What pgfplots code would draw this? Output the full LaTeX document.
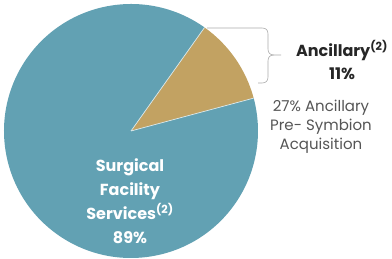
\documentclass[border=0pt]{standalone}
\usepackage{pgfplots}
\pgfplotsset{compat=1.18}
\usepackage{pgfplotstable}
\usepackage{fontspec}
\setmainfont{Poppins}
\definecolor{pieblue}{RGB}{98,161,179}
\definecolor{pietan}{RGB}{194,162,98}
\definecolor{txtgrey}{RGB}{85,85,85}
\definecolor{bracegrey}{RGB}{170,170,170}
\pgfplotstableread{
label value
Ancillary 11
Surgical 89
}\piedata
\begin{document}
\begin{tikzpicture}
\pgfplotstablegetelem{0}{value}\of\piedata \let\va\pgfplotsretval
\pgfplotstablegetelem{1}{value}\of\piedata \let\vb\pgfplotsretval
\pgfmathsetmacro{\astart}{15}
\pgfmathsetmacro{\aend}{15+3.6*\va}
\pgfmathsetmacro{\bend}{15+3.6*(\va+\vb)}
\begin{axis}[width=392pt,height=259pt,scale only axis,
  xmin=0,xmax=392,ymin=0,ymax=259,hide axis,clip=false]
\coordinate (BL) at (axis cs:0,0);
\coordinate (TR) at (axis cs:392,259);
% Surgical Facility Services slice
\fill[pieblue] (axis cs:131,128) -- ++(\aend:127pt)
   arc[start angle=\aend, end angle=\bend, radius=127pt] -- cycle;
% Ancillary slice
\fill[pietan] (axis cs:131,128) -- ++(\astart:127pt)
   arc[start angle=\astart, end angle=\aend, radius=127pt] -- cycle;
\draw[white!75!pieblue, line width=0.7pt] (axis cs:131,128) -- ++(\astart:127pt);
\draw[white!75!pieblue, line width=0.7pt] (axis cs:131,128) -- ++(\aend:127pt);
% brace
\draw[bracegrey, line width=0.6pt]
  (axis cs:207,231) -- (axis cs:262,231) .. controls (axis cs:266,231) and (axis cs:268,229) .. (axis cs:268,225)
  -- (axis cs:268,210) .. controls (axis cs:268,206) and (axis cs:270,204) .. (axis cs:274,204) -- (axis cs:281,204);
\draw[bracegrey, line width=0.6pt]
  (axis cs:274,204) .. controls (axis cs:270,204) and (axis cs:268,202) .. (axis cs:268,198)
  -- (axis cs:268,182) .. controls (axis cs:268,178) and (axis cs:266,176) .. (axis cs:262,176) -- (axis cs:258,176);
% labels
\node[white, font=\bfseries\fontsize{16}{24}\selectfont, align=center, anchor=center]
  at (axis cs:130,58) {Surgical\\Facility\\Services\textsuperscript{(2)}\\89\%};
\node[black!85, font=\bfseries\fontsize{16}{23}\selectfont, align=center, anchor=center]
  at (axis cs:342,199) {Ancillary\textsuperscript{(2)}\\11\%};
\node[txtgrey, font=\fontsize{15}{19}\selectfont, align=center, anchor=center]
  at (axis cs:321,132) {27\% Ancillary\\Pre- Symbion\\Acquisition};
\end{axis}
\pgfresetboundingbox
\useasboundingbox (BL) rectangle (TR);
\end{tikzpicture}
\end{document}
